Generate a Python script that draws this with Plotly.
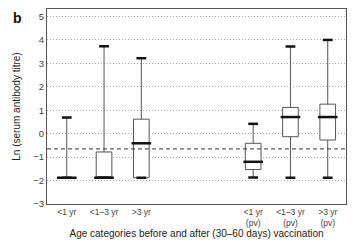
import plotly.graph_objects as go

categories = ["<1 yr", "<1–3 yr", ">3 yr", "gap1", "gap2", "<1 yr (pv)", "<1–3 yr (pv)", ">3 yr (pv)"]
tick_labels = ["<1 yr", "<1–3 yr", ">3 yr", "", "", "<1 yr<br>(pv)", "<1–3 yr<br>(pv)", ">3 yr<br>(pv)"]
box_cats = ["<1 yr", "<1–3 yr", ">3 yr", "<1 yr (pv)", "<1–3 yr (pv)", ">3 yr (pv)"]
mins = [-1.88, -1.88, -1.88, -1.87, -1.88, -1.88]
q1s = [-1.88, -1.88, -1.88, -1.53, -0.13, -0.27]
medians = [-1.88, -1.88, -0.41, -1.2, 0.71, 0.71]
q3s = [-1.88, -0.78, 0.62, -0.41, 1.12, 1.26]
maxs = [0.69, 3.73, 3.22, 0.42, 3.72, 4.0]
threshold = -0.65

FONT = "Liberation Sans, Arial, sans-serif"

fig = go.Figure()
fig.add_trace(go.Box(
    x=box_cats, q1=q1s, median=medians, q3=q3s,
    lowerfence=mins, upperfence=maxs,
    width=0.42, whiskerwidth=0,
    fillcolor="white", line=dict(color="#555", width=1),
    boxpoints=False, hoverinfo="skip", showlegend=False,
))
# thick medians
fig.add_trace(go.Scatter(
    x=box_cats, y=medians, mode="markers",
    marker=dict(symbol="line-ew", size=14, line=dict(color="#111", width=2.5)),
    showlegend=False, hoverinfo="skip",
))
# caps
fig.add_trace(go.Scatter(
    x=box_cats + box_cats, y=mins + maxs, mode="markers",
    marker=dict(symbol="line-ew", size=7, line=dict(color="#111", width=2.5)),
    showlegend=False, hoverinfo="skip",
))

fig.add_shape(type="line", xref="paper", x0=0, x1=1, yref="y", y0=threshold, y1=threshold,
              line=dict(color="#333", width=1, dash="4px,3px"))

fig.update_layout(
    width=355, height=242,
    margin=dict(l=39, r=17, t=1, b=46),
    paper_bgcolor="white", plot_bgcolor="white",
    font=dict(family=FONT, size=9, color="#333"),
    xaxis=dict(
        type="category", categoryorder="array", categoryarray=categories,
        tickmode="array", tickvals=categories, ticktext=tick_labels,
        showline=True, mirror=True, linecolor="#555", linewidth=1,
        showgrid=False, ticks="", range=[-0.53, 7.49],
        tickfont=dict(size=8.5, color="#444"),
        title=dict(text="Age categories before and after (30–60 days) vaccination",
                   font=dict(size=10, color="#222"), standoff=2),
    ),
    yaxis=dict(
        range=[-3, 5.32], tickvals=[-3, -2, -1, 0, 1, 2, 3, 4, 5],
        showline=True, mirror=True, linecolor="#555", linewidth=1,
        showgrid=True, gridcolor="#aaa", griddash="1px,2px", gridwidth=1,
        zeroline=False, ticks="",
        tickfont=dict(size=9.5, color="#444"),
        title=dict(text="Ln (serum antibody titre)", font=dict(size=10, color="#222"), standoff=10),
    ),
)
fig.add_annotation(text="<b>b</b>", xref="paper", yref="paper", x=-0.12, y=1.0,
                   xanchor="left", yanchor="top", yshift=1, showarrow=False,
                   font=dict(size=14, color="#111", family=FONT))

fig.write_html("out.html")
